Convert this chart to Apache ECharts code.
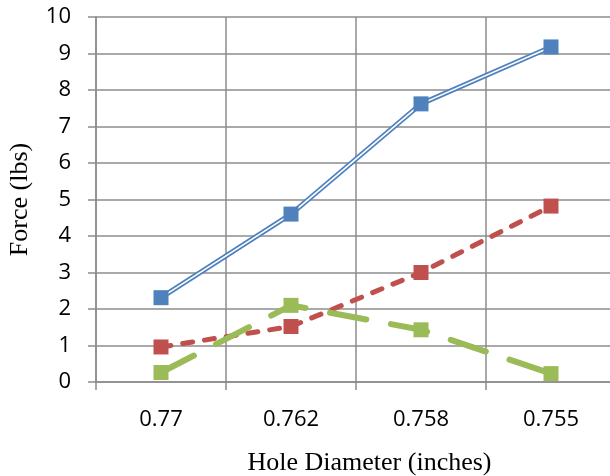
<!DOCTYPE html>
<html>
<head>
<meta charset="utf-8">
<script src="https://cdn.jsdelivr.net/npm/echarts@6/dist/echarts.min.js"></script>
<style>
  html, body { margin: 0; padding: 0; background: #fff; }
  #chart { width: 610px; height: 476px; }
</style>
</head>
<body>
<div id="chart"></div>
<script>
// Hole diameters (inches) along the category axis
const diameters = ['0.77', '0.762', '0.758', '0.755'];
// Measured force (lbs) for each of the three runs
const forceBlue = [2.31, 4.6, 7.62, 9.18];
const forceRed = [0.96, 1.52, 3.0, 4.82];
const forceGreen = [0.26, 2.1, 1.43, 0.23];
// Y-axis range and step
const yMin = 0, yMax = 10, yStep = 1;

const gridColor = '#8c8c8c';
const blue = '#4F81BD', red = '#C0504D', green = '#9BBB59';

const chart = echarts.init(document.getElementById('chart'), null, { renderer: 'canvas' });

chart.setOption({
  animation: false,
  backgroundColor: '#ffffff',
  grid: { left: 96, top: 17, right: -6, bottom: 94, containLabel: false, outerBoundsMode: 'none' },
  xAxis: {
    type: 'category',
    data: diameters,
    boundaryGap: true,
    name: 'Hole Diameter (inches)',
    nameLocation: 'middle',
    nameGap: 68,
    nameTextStyle: { fontFamily: 'Liberation Serif', fontSize: 26, color: '#000', padding: [0, 0, 0, 27] },
    axisLine: { show: true, lineStyle: { color: gridColor, width: 1.5 } },
    axisTick: { show: true, alignWithLabel: false, length: 8, lineStyle: { color: gridColor, width: 1.5 } },
    axisLabel: { fontFamily: 'Open Sans', fontSize: 22, color: '#000', margin: 27 },
    splitLine: { show: true, lineStyle: { color: gridColor, width: 1.5 } }
  },
  yAxis: {
    type: 'value',
    min: yMin, max: yMax, interval: yStep,
    name: 'Force (lbs)',
    nameLocation: 'middle',
    nameGap: 63,
    nameRotate: 90,
    nameTextStyle: { fontFamily: 'Liberation Serif', fontSize: 26, color: '#000' },
    axisLine: { show: true, lineStyle: { color: gridColor, width: 1.5 } },
    axisTick: { show: true, length: 8, lineStyle: { color: gridColor, width: 1.5 } },
    axisLabel: { fontFamily: 'Open Sans', fontSize: 22, color: '#000', margin: 25 },
    splitLine: { show: true, lineStyle: { color: gridColor, width: 1.5 } }
  },
  series: [
    {
      // outer stroke of the double blue line
      type: 'line', data: forceBlue, z: 2,
      symbol: 'none',
      lineStyle: { color: blue, width: 5 }
    },
    {
      // white core that splits the blue stroke into two
      type: 'line', data: forceBlue, z: 3,
      symbol: 'none',
      lineStyle: { color: '#ffffff', width: 1.6 }
    },
    {
      type: 'line', data: forceRed, z: 4,
      symbol: 'rect', symbolSize: 15,
      itemStyle: { color: red },
      lineStyle: { color: red, width: 5, type: [10, 12], cap: 'round' }
    },
    {
      type: 'line', data: forceGreen, z: 5,
      symbol: 'rect', symbolSize: 15,
      itemStyle: { color: green },
      lineStyle: { color: green, width: 6, type: [37, 25], cap: 'round' }
    },
    {
      // blue square markers on top of the double line
      type: 'line', data: forceBlue, z: 6,
      symbol: 'rect', symbolSize: 15,
      itemStyle: { color: blue },
      lineStyle: { opacity: 0 }
    }
  ]
});
</script>
</body>
</html>
